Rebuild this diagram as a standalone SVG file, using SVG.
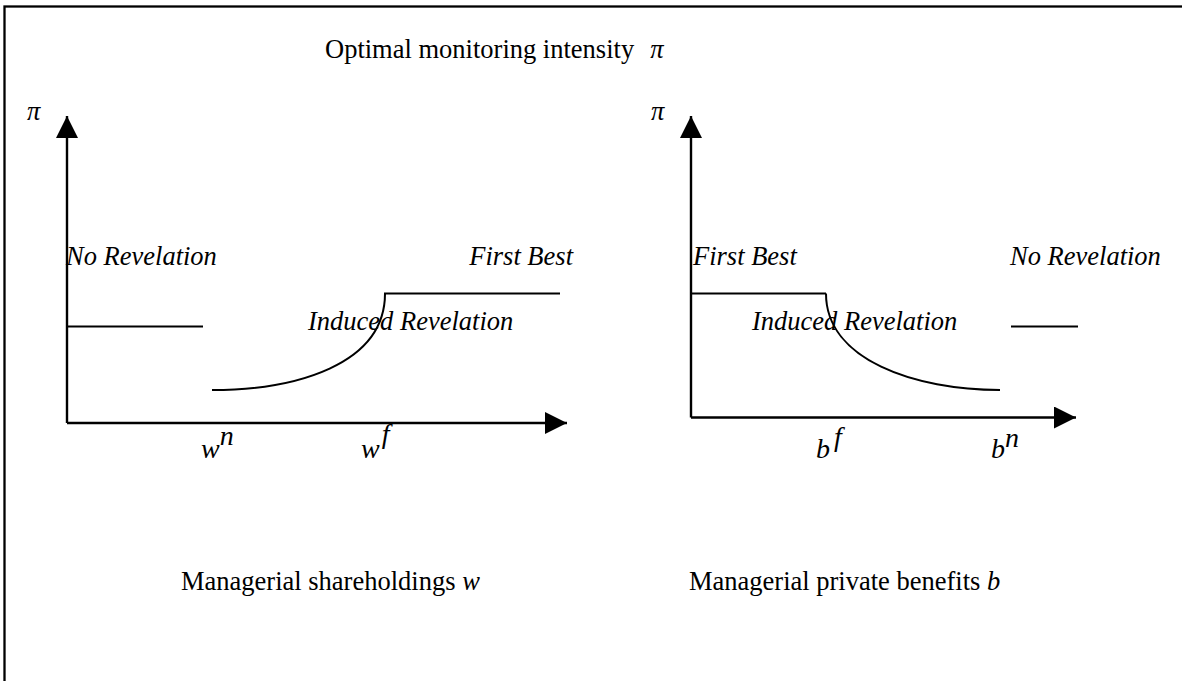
<svg xmlns="http://www.w3.org/2000/svg" width="1182" height="681" viewBox="0 0 1182 681">
<defs>
<style>
text{font-family:"Liberation Serif","Times New Roman",serif;font-size:26.5px;fill:#000}
.it{font-style:italic}
.m{font-style:italic;font-size:28px}
.ax{stroke:#000;stroke-width:2.4;fill:none}
.ln{stroke:#000;stroke-width:2;fill:none}
</style>
<marker id="ah" markerUnits="userSpaceOnUse" markerWidth="22" markerHeight="22" refX="20" refY="10" orient="auto" viewBox="0 0 20 20">
<path d="M0,0 L20,10 L0,20 Z" fill="#000"/>
</marker>
</defs>
<rect x="4.5" y="6.5" width="1200" height="700" fill="none" stroke="#000" stroke-width="2.3"/>
<g id="title"><text x="325" y="58">Optimal monitoring intensity<tspan class="it" dx="16">π</tspan></text></g>
<g id="connectors">
<line class="ax" x1="67" y1="423" x2="67" y2="116" marker-end="url(#ah)"/>
<line class="ax" x1="67" y1="423" x2="567" y2="423" marker-end="url(#ah)"/>
<line class="ax" x1="691" y1="417.5" x2="691" y2="116" marker-end="url(#ah)"/>
<line class="ax" x1="691" y1="417.5" x2="1076" y2="417.5" marker-end="url(#ah)"/>
<line class="ln" x1="67" y1="326.5" x2="203" y2="326.5"/>
<path class="ln" d="M212,390 C295,390 385,365 385,293.5 L560,293.5"/>
<line class="ln" x1="691" y1="293.5" x2="826" y2="293.5"/>
<path class="ln" d="M826,293.5 C826,360 915,390 1000,390"/>
<line class="ln" x1="1011" y1="326.5" x2="1078" y2="326.5"/>
</g>
<g id="left-chart">
<text class="it" x="27" y="120">π</text>
<text class="it" x="66" y="265">No Revelation</text>
<text class="it" x="573" y="265" text-anchor="end">First Best</text>
<text class="it" x="308" y="330">Induced Revelation</text>
<text class="m" x="201" y="458">w<tspan dx="0" dy="-13">n</tspan></text>
<text class="m" x="361" y="458">w<tspan dx="2" dy="-15">f</tspan></text>
<text x="181" y="590">Managerial shareholdings <tspan class="it">w</tspan></text>
</g>
<g id="right-chart">
<text class="it" x="651" y="120">π</text>
<text class="it" x="693" y="265">First Best</text>
<text class="it" x="1010" y="265">No Revelation</text>
<text class="it" x="752" y="330">Induced Revelation</text>
<text class="m" x="816" y="458">b<tspan dx="4" dy="-12">f</tspan></text>
<text class="m" x="991" y="458">b<tspan dx="0" dy="-11">n</tspan></text>
<text x="689" y="590">Managerial private benefits <tspan class="it">b</tspan></text>
</g>
</svg>
